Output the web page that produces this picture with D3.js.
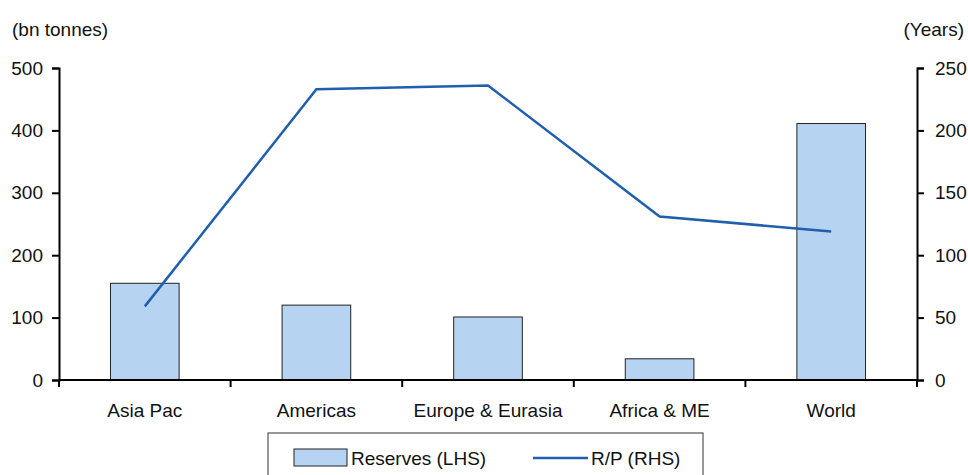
<!DOCTYPE html>
<html>
<head>
<meta charset="utf-8">
<script src="https://cdn.jsdelivr.net/npm/d3@7"></script>
<style>
  html, body { margin: 0; padding: 0; background: #fff; }
  svg { display: block; }
  text { font-family: "Liberation Sans Narrow", "Arial Narrow", "Liberation Sans", Arial, sans-serif; font-size: 19px; fill: #111; }
</style>
</head>
<body>
<svg id="chart" width="968" height="475"></svg>
<script>
// Regions, proved reserves (bn tonnes) and reserves-to-production ratio (years)
const categories = ["Asia Pac", "Americas", "Europe & Eurasia", "Africa & ME", "World"];
const reserves = [155, 120, 101, 34, 411];
const rpYears = [59, 233, 236, 131, 119];
const leftTicks = [0, 100, 200, 300, 400, 500];
const rightTicks = [0, 50, 100, 150, 200, 250];

const svg = d3.select("#chart");
const margin = { left: 59, right: 51, top: 68, bottom: 95 };
const W = 968, H = 475;
const x0 = margin.left, x1 = W - margin.right;
const yTop = margin.top, yBot = H - margin.bottom;

const x = d3.scaleBand().domain(categories).range([x0, x1]).paddingInner(0).paddingOuter(0);
const yL = d3.scaleLinear().domain([0, 500]).range([yBot, yTop]);
const yR = d3.scaleLinear().domain([0, 250]).range([yBot, yTop]);

const barW = x.bandwidth() * 0.4;

// Bars
svg.append("g").selectAll("rect").data(categories).join("rect")
  .attr("x", d => x(d) + (x.bandwidth() - barW) / 2)
  .attr("y", (d, i) => yL(reserves[i]))
  .attr("width", barW)
  .attr("height", (d, i) => yBot - yL(reserves[i]))
  .attr("fill", "#b6d3f1")
  .attr("stroke", "#222")
  .attr("stroke-width", 1);

// R/P line
const line = d3.line()
  .x((d, i) => x(categories[i]) + x.bandwidth() / 2)
  .y(d => yR(d));
svg.append("path").datum(rpYears)
  .attr("d", line)
  .attr("fill", "none")
  .attr("stroke", "#1f5fad")
  .attr("stroke-width", 2.5);

// Left axis
const gL = svg.append("g").attr("transform", `translate(${x0},0)`)
  .call(d3.axisLeft(yL).tickValues(leftTicks).tickSize(7).tickPadding(9));
// Right axis
const gR = svg.append("g").attr("transform", `translate(${x1},0)`)
  .call(d3.axisRight(yR).tickValues(rightTicks).tickSize(7).tickPadding(11));
// Category axis
const gX = svg.append("g").attr("transform", `translate(0,${yBot})`)
  .call(d3.axisBottom(x).tickSize(0).tickPadding(24));
// Boundary ticks between categories
const bounds = categories.map(c => x(c)).concat([x1]);
svg.append("g").selectAll("line").data(bounds).join("line")
  .attr("x1", d => d).attr("x2", d => d)
  .attr("y1", yBot).attr("y2", yBot + 7)
  .attr("stroke", "#000").attr("stroke-width", 2);

[gL, gR, gX].forEach(g => {
  g.selectAll(".domain").attr("stroke", "#000").attr("stroke-width", 2);
  g.selectAll(".tick line").attr("stroke", "#000").attr("stroke-width", 2);
  g.selectAll(".tick text").style("font-size", "19px").attr("fill", "#111")
    .style("font-family", "'Liberation Sans Narrow', 'Arial Narrow', 'Liberation Sans', Arial, sans-serif");
});
gX.select(".domain").attr("d", `M${x0},0H${x1}`);

// Axis titles
svg.append("text").attr("x", 12).attr("y", 36).text("(bn tonnes)");
svg.append("text").attr("x", 964).attr("y", 36).attr("text-anchor", "end").text("(Years)");

// Legend
const leg = svg.append("g");
leg.append("rect").attr("x", 268).attr("y", 433).attr("width", 435).attr("height", 60)
  .attr("fill", "#fff").attr("stroke", "#333").attr("stroke-width", 1);
leg.append("rect").attr("x", 294).attr("y", 449).attr("width", 53).attr("height", 17)
  .attr("fill", "#b6d3f1").attr("stroke", "#222").attr("stroke-width", 1);
leg.append("text").attr("x", 351).attr("y", 465).text("Reserves (LHS)");
leg.append("line").attr("x1", 533).attr("x2", 588).attr("y1", 458).attr("y2", 458)
  .attr("stroke", "#1f5fad").attr("stroke-width", 2.5);
leg.append("text").attr("x", 591).attr("y", 465).text("R/P (RHS)");
</script>
</body>
</html>
